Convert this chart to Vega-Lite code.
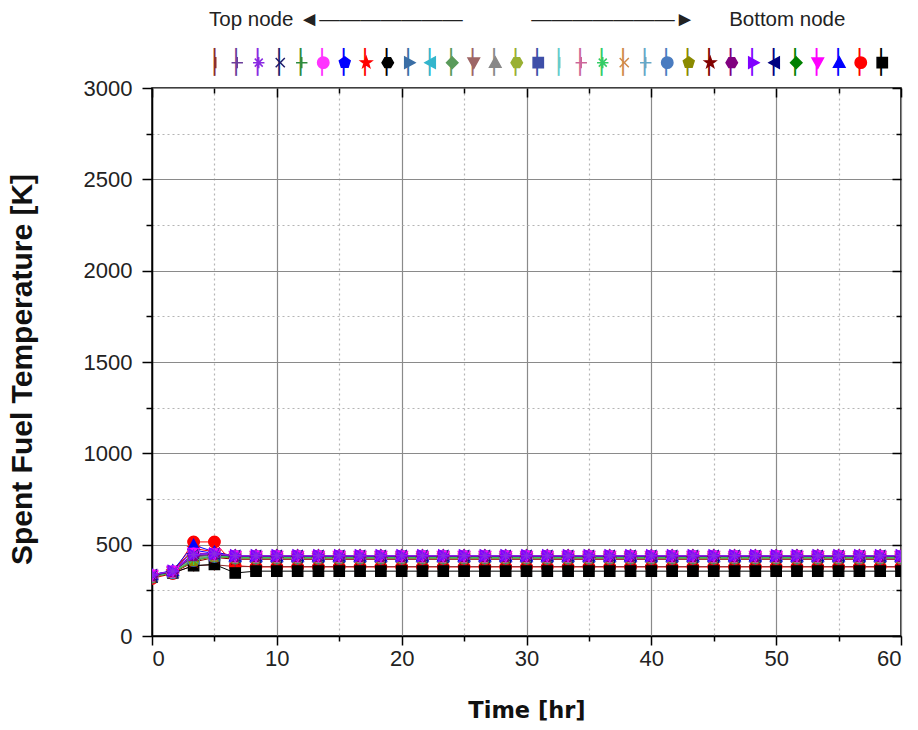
{
"$schema": "https://vega.github.io/schema/vega-lite/v6.json",
"width": 749, "height": 548,
"autosize": "none",
"padding": {"left": 152, "top": 88, "right": 17, "bottom": 94},
"background": "white",
"config": {"view": {"stroke": "#000", "strokeWidth": 1.5}},
"data": {"values": [
{"t":0,"n01":320,"n02":330,"n03":335,"n04":332,"n05":330,"n06":332,"n07":334,"n08":330,"n09":326,"n10":330,"n11":330,"n12":328,"n13":328,"n14":328,"n15":326,"n16":326,"n17":326,"n18":325,"n19":325,"n20":324,"n21":324,"n22":323,"n23":322,"n24":322,"n25":330,"n26":335,"n27":332,"n28":330,"n29":334,"n30":336,"n31":315,"n32":322},
{"t":1.667,"n01":345,"n02":352,"n03":355,"n04":354,"n05":352,"n06":352,"n07":356,"n08":354,"n09":350,"n10":352,"n11":352,"n12":350,"n13":350,"n14":350,"n15":350,"n16":348,"n17":348,"n18":348,"n19":348,"n20":347,"n21":347,"n22":346,"n23":346,"n24":345,"n25":352,"n26":356,"n27":354,"n28":352,"n29":356,"n30":358,"n31":342,"n32":345},
{"t":3.333,"n01":385,"n02":440,"n03":445,"n04":448,"n05":440,"n06":450,"n07":470,"n08":480,"n09":420,"n10":445,"n11":440,"n12":435,"n13":432,"n14":430,"n15":428,"n16":425,"n17":424,"n18":422,"n19":420,"n20":418,"n21":416,"n22":414,"n23":412,"n24":405,"n25":440,"n26":445,"n27":450,"n28":445,"n29":455,"n30":498,"n31":515,"n32":385},
{"t":5,"n01":390,"n02":448,"n03":450,"n04":448,"n05":446,"n06":448,"n07":452,"n08":460,"n09":440,"n10":447,"n11":446,"n12":445,"n13":444,"n14":443,"n15":442,"n16":440,"n17":440,"n18":439,"n19":438,"n20":437,"n21":436,"n22":436,"n23":435,"n24":430,"n25":448,"n26":450,"n27":448,"n28":446,"n29":450,"n30":460,"n31":515,"n32":392},
{"t":6.667,"n01":380,"n02":438,"n03":440,"n04":438,"n05":436,"n06":436,"n07":440,"n08":438,"n09":430,"n10":437,"n11":436,"n12":434,"n13":434,"n14":433,"n15":432,"n16":431,"n17":430,"n18":430,"n19":429,"n20":428,"n21":428,"n22":427,"n23":426,"n24":420,"n25":436,"n26":440,"n27":436,"n28":432,"n29":438,"n30":436,"n31":385,"n32":345},
{"t":8.333,"n01":380,"n02":438,"n03":440,"n04":438,"n05":436,"n06":436,"n07":440,"n08":438,"n09":430,"n10":437,"n11":436,"n12":434,"n13":434,"n14":433,"n15":432,"n16":431,"n17":430,"n18":430,"n19":429,"n20":428,"n21":428,"n22":427,"n23":426,"n24":420,"n25":436,"n26":440,"n27":436,"n28":432,"n29":438,"n30":436,"n31":378,"n32":355},
{"t":10,"n01":380,"n02":438,"n03":440,"n04":438,"n05":436,"n06":436,"n07":440,"n08":438,"n09":430,"n10":437,"n11":436,"n12":434,"n13":434,"n14":433,"n15":432,"n16":431,"n17":430,"n18":430,"n19":429,"n20":428,"n21":428,"n22":427,"n23":426,"n24":420,"n25":436,"n26":440,"n27":436,"n28":432,"n29":438,"n30":436,"n31":378,"n32":355},
{"t":11.667,"n01":380,"n02":438,"n03":440,"n04":438,"n05":436,"n06":436,"n07":440,"n08":438,"n09":430,"n10":437,"n11":436,"n12":434,"n13":434,"n14":433,"n15":432,"n16":431,"n17":430,"n18":430,"n19":429,"n20":428,"n21":428,"n22":427,"n23":426,"n24":420,"n25":436,"n26":440,"n27":436,"n28":432,"n29":438,"n30":436,"n31":378,"n32":355},
{"t":13.333,"n01":380,"n02":438,"n03":440,"n04":438,"n05":436,"n06":436,"n07":440,"n08":438,"n09":430,"n10":437,"n11":436,"n12":434,"n13":434,"n14":433,"n15":432,"n16":431,"n17":430,"n18":430,"n19":429,"n20":428,"n21":428,"n22":427,"n23":426,"n24":420,"n25":436,"n26":440,"n27":436,"n28":432,"n29":438,"n30":436,"n31":378,"n32":355},
{"t":15,"n01":380,"n02":438,"n03":440,"n04":438,"n05":436,"n06":436,"n07":440,"n08":438,"n09":430,"n10":437,"n11":436,"n12":434,"n13":434,"n14":433,"n15":432,"n16":431,"n17":430,"n18":430,"n19":429,"n20":428,"n21":428,"n22":427,"n23":426,"n24":420,"n25":436,"n26":440,"n27":436,"n28":432,"n29":438,"n30":436,"n31":378,"n32":355},
{"t":16.667,"n01":380,"n02":438,"n03":440,"n04":438,"n05":436,"n06":436,"n07":440,"n08":438,"n09":430,"n10":437,"n11":436,"n12":434,"n13":434,"n14":433,"n15":432,"n16":431,"n17":430,"n18":430,"n19":429,"n20":428,"n21":428,"n22":427,"n23":426,"n24":420,"n25":436,"n26":440,"n27":436,"n28":432,"n29":438,"n30":436,"n31":378,"n32":355},
{"t":18.333,"n01":380,"n02":438,"n03":440,"n04":438,"n05":436,"n06":436,"n07":440,"n08":438,"n09":430,"n10":437,"n11":436,"n12":434,"n13":434,"n14":433,"n15":432,"n16":431,"n17":430,"n18":430,"n19":429,"n20":428,"n21":428,"n22":427,"n23":426,"n24":420,"n25":436,"n26":440,"n27":436,"n28":432,"n29":438,"n30":436,"n31":378,"n32":355},
{"t":20,"n01":380,"n02":438,"n03":440,"n04":438,"n05":436,"n06":436,"n07":440,"n08":438,"n09":430,"n10":437,"n11":436,"n12":434,"n13":434,"n14":433,"n15":432,"n16":431,"n17":430,"n18":430,"n19":429,"n20":428,"n21":428,"n22":427,"n23":426,"n24":420,"n25":436,"n26":440,"n27":436,"n28":432,"n29":438,"n30":436,"n31":378,"n32":355},
{"t":21.667,"n01":380,"n02":438,"n03":440,"n04":438,"n05":436,"n06":436,"n07":440,"n08":438,"n09":430,"n10":437,"n11":436,"n12":434,"n13":434,"n14":433,"n15":432,"n16":431,"n17":430,"n18":430,"n19":429,"n20":428,"n21":428,"n22":427,"n23":426,"n24":420,"n25":436,"n26":440,"n27":436,"n28":432,"n29":438,"n30":436,"n31":378,"n32":355},
{"t":23.333,"n01":380,"n02":438,"n03":440,"n04":438,"n05":436,"n06":436,"n07":440,"n08":438,"n09":430,"n10":437,"n11":436,"n12":434,"n13":434,"n14":433,"n15":432,"n16":431,"n17":430,"n18":430,"n19":429,"n20":428,"n21":428,"n22":427,"n23":426,"n24":420,"n25":436,"n26":440,"n27":436,"n28":432,"n29":438,"n30":436,"n31":378,"n32":355},
{"t":25,"n01":380,"n02":438,"n03":440,"n04":438,"n05":436,"n06":436,"n07":440,"n08":438,"n09":430,"n10":437,"n11":436,"n12":434,"n13":434,"n14":433,"n15":432,"n16":431,"n17":430,"n18":430,"n19":429,"n20":428,"n21":428,"n22":427,"n23":426,"n24":420,"n25":436,"n26":440,"n27":436,"n28":432,"n29":438,"n30":436,"n31":378,"n32":355},
{"t":26.667,"n01":380,"n02":438,"n03":440,"n04":438,"n05":436,"n06":436,"n07":440,"n08":438,"n09":430,"n10":437,"n11":436,"n12":434,"n13":434,"n14":433,"n15":432,"n16":431,"n17":430,"n18":430,"n19":429,"n20":428,"n21":428,"n22":427,"n23":426,"n24":420,"n25":436,"n26":440,"n27":436,"n28":432,"n29":438,"n30":436,"n31":378,"n32":355},
{"t":28.333,"n01":380,"n02":438,"n03":440,"n04":438,"n05":436,"n06":436,"n07":440,"n08":438,"n09":430,"n10":437,"n11":436,"n12":434,"n13":434,"n14":433,"n15":432,"n16":431,"n17":430,"n18":430,"n19":429,"n20":428,"n21":428,"n22":427,"n23":426,"n24":420,"n25":436,"n26":440,"n27":436,"n28":432,"n29":438,"n30":436,"n31":378,"n32":355},
{"t":30,"n01":380,"n02":438,"n03":440,"n04":438,"n05":436,"n06":436,"n07":440,"n08":438,"n09":430,"n10":437,"n11":436,"n12":434,"n13":434,"n14":433,"n15":432,"n16":431,"n17":430,"n18":430,"n19":429,"n20":428,"n21":428,"n22":427,"n23":426,"n24":420,"n25":436,"n26":440,"n27":436,"n28":432,"n29":438,"n30":436,"n31":378,"n32":355},
{"t":31.667,"n01":380,"n02":438,"n03":440,"n04":438,"n05":436,"n06":436,"n07":440,"n08":438,"n09":430,"n10":437,"n11":436,"n12":434,"n13":434,"n14":433,"n15":432,"n16":431,"n17":430,"n18":430,"n19":429,"n20":428,"n21":428,"n22":427,"n23":426,"n24":420,"n25":436,"n26":440,"n27":436,"n28":432,"n29":438,"n30":436,"n31":378,"n32":355},
{"t":33.333,"n01":380,"n02":438,"n03":440,"n04":438,"n05":436,"n06":436,"n07":440,"n08":438,"n09":430,"n10":437,"n11":436,"n12":434,"n13":434,"n14":433,"n15":432,"n16":431,"n17":430,"n18":430,"n19":429,"n20":428,"n21":428,"n22":427,"n23":426,"n24":420,"n25":436,"n26":440,"n27":436,"n28":432,"n29":438,"n30":436,"n31":378,"n32":355},
{"t":35,"n01":380,"n02":438,"n03":440,"n04":438,"n05":436,"n06":436,"n07":440,"n08":438,"n09":430,"n10":437,"n11":436,"n12":434,"n13":434,"n14":433,"n15":432,"n16":431,"n17":430,"n18":430,"n19":429,"n20":428,"n21":428,"n22":427,"n23":426,"n24":420,"n25":436,"n26":440,"n27":436,"n28":432,"n29":438,"n30":436,"n31":378,"n32":355},
{"t":36.667,"n01":380,"n02":438,"n03":440,"n04":438,"n05":436,"n06":436,"n07":440,"n08":438,"n09":430,"n10":437,"n11":436,"n12":434,"n13":434,"n14":433,"n15":432,"n16":431,"n17":430,"n18":430,"n19":429,"n20":428,"n21":428,"n22":427,"n23":426,"n24":420,"n25":436,"n26":440,"n27":436,"n28":432,"n29":438,"n30":436,"n31":378,"n32":355},
{"t":38.333,"n01":380,"n02":438,"n03":440,"n04":438,"n05":436,"n06":436,"n07":440,"n08":438,"n09":430,"n10":437,"n11":436,"n12":434,"n13":434,"n14":433,"n15":432,"n16":431,"n17":430,"n18":430,"n19":429,"n20":428,"n21":428,"n22":427,"n23":426,"n24":420,"n25":436,"n26":440,"n27":436,"n28":432,"n29":438,"n30":436,"n31":378,"n32":355},
{"t":40,"n01":380,"n02":438,"n03":440,"n04":438,"n05":436,"n06":436,"n07":440,"n08":438,"n09":430,"n10":437,"n11":436,"n12":434,"n13":434,"n14":433,"n15":432,"n16":431,"n17":430,"n18":430,"n19":429,"n20":428,"n21":428,"n22":427,"n23":426,"n24":420,"n25":436,"n26":440,"n27":436,"n28":432,"n29":438,"n30":436,"n31":378,"n32":355},
{"t":41.667,"n01":380,"n02":438,"n03":440,"n04":438,"n05":436,"n06":436,"n07":440,"n08":438,"n09":430,"n10":437,"n11":436,"n12":434,"n13":434,"n14":433,"n15":432,"n16":431,"n17":430,"n18":430,"n19":429,"n20":428,"n21":428,"n22":427,"n23":426,"n24":420,"n25":436,"n26":440,"n27":436,"n28":432,"n29":438,"n30":436,"n31":378,"n32":355},
{"t":43.333,"n01":380,"n02":438,"n03":440,"n04":438,"n05":436,"n06":436,"n07":440,"n08":438,"n09":430,"n10":437,"n11":436,"n12":434,"n13":434,"n14":433,"n15":432,"n16":431,"n17":430,"n18":430,"n19":429,"n20":428,"n21":428,"n22":427,"n23":426,"n24":420,"n25":436,"n26":440,"n27":436,"n28":432,"n29":438,"n30":436,"n31":378,"n32":355},
{"t":45,"n01":380,"n02":438,"n03":440,"n04":438,"n05":436,"n06":436,"n07":440,"n08":438,"n09":430,"n10":437,"n11":436,"n12":434,"n13":434,"n14":433,"n15":432,"n16":431,"n17":430,"n18":430,"n19":429,"n20":428,"n21":428,"n22":427,"n23":426,"n24":420,"n25":436,"n26":440,"n27":436,"n28":432,"n29":438,"n30":436,"n31":378,"n32":355},
{"t":46.667,"n01":380,"n02":438,"n03":440,"n04":438,"n05":436,"n06":436,"n07":440,"n08":438,"n09":430,"n10":437,"n11":436,"n12":434,"n13":434,"n14":433,"n15":432,"n16":431,"n17":430,"n18":430,"n19":429,"n20":428,"n21":428,"n22":427,"n23":426,"n24":420,"n25":436,"n26":440,"n27":436,"n28":432,"n29":438,"n30":436,"n31":378,"n32":355},
{"t":48.333,"n01":380,"n02":438,"n03":440,"n04":438,"n05":436,"n06":436,"n07":440,"n08":438,"n09":430,"n10":437,"n11":436,"n12":434,"n13":434,"n14":433,"n15":432,"n16":431,"n17":430,"n18":430,"n19":429,"n20":428,"n21":428,"n22":427,"n23":426,"n24":420,"n25":436,"n26":440,"n27":436,"n28":432,"n29":438,"n30":436,"n31":378,"n32":355},
{"t":50,"n01":380,"n02":438,"n03":440,"n04":438,"n05":436,"n06":436,"n07":440,"n08":438,"n09":430,"n10":437,"n11":436,"n12":434,"n13":434,"n14":433,"n15":432,"n16":431,"n17":430,"n18":430,"n19":429,"n20":428,"n21":428,"n22":427,"n23":426,"n24":420,"n25":436,"n26":440,"n27":436,"n28":432,"n29":438,"n30":436,"n31":378,"n32":355},
{"t":51.667,"n01":380,"n02":438,"n03":440,"n04":438,"n05":436,"n06":436,"n07":440,"n08":438,"n09":430,"n10":437,"n11":436,"n12":434,"n13":434,"n14":433,"n15":432,"n16":431,"n17":430,"n18":430,"n19":429,"n20":428,"n21":428,"n22":427,"n23":426,"n24":420,"n25":436,"n26":440,"n27":436,"n28":432,"n29":438,"n30":436,"n31":378,"n32":355},
{"t":53.333,"n01":380,"n02":438,"n03":440,"n04":438,"n05":436,"n06":436,"n07":440,"n08":438,"n09":430,"n10":437,"n11":436,"n12":434,"n13":434,"n14":433,"n15":432,"n16":431,"n17":430,"n18":430,"n19":429,"n20":428,"n21":428,"n22":427,"n23":426,"n24":420,"n25":436,"n26":440,"n27":436,"n28":432,"n29":438,"n30":436,"n31":378,"n32":355},
{"t":55,"n01":380,"n02":438,"n03":440,"n04":438,"n05":436,"n06":436,"n07":440,"n08":438,"n09":430,"n10":437,"n11":436,"n12":434,"n13":434,"n14":433,"n15":432,"n16":431,"n17":430,"n18":430,"n19":429,"n20":428,"n21":428,"n22":427,"n23":426,"n24":420,"n25":436,"n26":440,"n27":436,"n28":432,"n29":438,"n30":436,"n31":378,"n32":355},
{"t":56.667,"n01":380,"n02":438,"n03":440,"n04":438,"n05":436,"n06":436,"n07":440,"n08":438,"n09":430,"n10":437,"n11":436,"n12":434,"n13":434,"n14":433,"n15":432,"n16":431,"n17":430,"n18":430,"n19":429,"n20":428,"n21":428,"n22":427,"n23":426,"n24":420,"n25":436,"n26":440,"n27":436,"n28":432,"n29":438,"n30":436,"n31":378,"n32":355},
{"t":58.333,"n01":380,"n02":438,"n03":440,"n04":438,"n05":436,"n06":436,"n07":440,"n08":438,"n09":430,"n10":437,"n11":436,"n12":434,"n13":434,"n14":433,"n15":432,"n16":431,"n17":430,"n18":430,"n19":429,"n20":428,"n21":428,"n22":427,"n23":426,"n24":420,"n25":436,"n26":440,"n27":436,"n28":432,"n29":438,"n30":436,"n31":378,"n32":355},
{"t":60,"n01":380,"n02":438,"n03":440,"n04":438,"n05":436,"n06":436,"n07":440,"n08":438,"n09":430,"n10":437,"n11":436,"n12":434,"n13":434,"n14":433,"n15":432,"n16":431,"n17":430,"n18":430,"n19":429,"n20":428,"n21":428,"n22":427,"n23":426,"n24":420,"n25":436,"n26":440,"n27":436,"n28":432,"n29":438,"n30":436,"n31":378,"n32":355}
]},
"transform": [{"fold": ["n31","n01","n32","n24","n09","n16","n15","n14","n13","n12","n11","n10","n17","n18","n20","n21","n22","n23","n28","n05","n07","n08","n30","n06","n27","n02","n19","n25","n29","n04","n26","n03"], "as": ["node","temp"]}],
"encoding": {
  "x": {"field": "t", "type": "quantitative", "scale": {"domain": [0, 60], "nice": false},
    "axis": {"values": [0,5,10,15,20,25,30,35,40,45,50,55,60], "labelExpr": "datum.value % 10 === 0 ? datum.label : ''",
      "title": "Time [hr]", "titleFont": "DejaVu Sans", "titleFontSize": 22.5, "titleFontWeight": "bold", "titleColor": "#111", "titlePadding": 30,
      "labelFont": "Liberation Sans", "labelFontSize": 22, "labelColor": "#222", "labelPadding": 3,
      "tickSize": {"condition": {"test": "datum.value % 10 === 0", "value": 9}, "value": 5},
      "tickColor": "#000", "tickWidth": 1.5, "domainColor": "#000", "domainWidth": 1.5,
      "grid": true, "gridWidth": 1.2,
      "gridColor": {"condition": {"test": "datum.value % 10 === 0", "value": "#8a8a8a"}, "value": "#b5b5b5"},
      "gridDash": {"condition": {"test": "datum.value % 10 === 0", "value": []}, "value": [2, 3]}}},
  "y": {"field": "temp", "type": "quantitative", "scale": {"domain": [0, 3000], "nice": false},
    "axis": {"values": [0,250,500,750,1000,1250,1500,1750,2000,2250,2500,2750,3000], "labelExpr": "datum.value % 500 === 0 ? datum.label : ''", "format": "d",
      "title": "Spent Fuel Temperature [K]", "titleFont": "Liberation Sans", "titleFontSize": 30, "titleFontWeight": "bold", "titleColor": "#111", "titlePadding": 46, "titleY": 281,
      "labelFont": "Liberation Sans", "labelFontSize": 22, "labelColor": "#222", "labelPadding": 10,
      "tickSize": {"condition": {"test": "datum.value % 500 === 0", "value": 10}, "value": 6},
      "tickColor": "#000", "tickWidth": 1.5, "domainColor": "#000", "domainWidth": 1.5,
      "grid": true, "gridWidth": 1.2,
      "gridColor": {"condition": {"test": "datum.value % 500 === 0", "value": "#8a8a8a"}, "value": "#b5b5b5"},
      "gridDash": {"condition": {"test": "datum.value % 500 === 0", "value": []}, "value": [2, 3]}}},
  "color": {"field": "node", "type": "nominal",
    "scale": {"domain": ["n01","n02","n03","n04","n05","n06","n07","n08","n09","n10","n11","n12","n13","n14","n15","n16","n17","n18","n19","n20","n21","n22","n23","n24","n25","n26","n27","n28","n29","n30","n31","n32"],
      "range": ["#8B2E2E","#6A3D9A","#8A2BE2","#1C1C6B","#2E8B3E","#FF33FF","#0000FF","#FF0000","#000000","#3A6EA5","#33B5CC","#5A9A5A","#9E6666","#888888","#99B033","#3E4FA8","#66CCCC","#CC6699","#33CC66","#D08A4A","#66A8C8","#4A7CC0","#8A8A00","#800000","#800080","#8000FF","#000080","#008000","#FF00FF","#0000FF","#FF0000","#000000"]},
    "legend": {"orient": "none", "legendX": 52, "legendY": -78, "direction": "horizontal", "columns": 32, "padding": 0, "symbolLimit": 40,
      "labelExpr": "'│'", "labelFont": "DejaVu Sans", "labelFontSize": 23.5, "labelAlign": "center", "labelBaseline": "middle", "labelOffset": -13,
      "columnPadding": 0.5, "gridAlign": "all",
      "symbolSize": 130, "symbolStrokeWidth": 1.5,
      "title": "Top node ◄———————\u00a0\u00a0\u00a0\u00a0\u00a0\u00a0\u00a0\u00a0\u00a0\u00a0\u00a0\u00a0———————►\u00a0\u00a0\u00a0\u00a0\u00a0\u00a0Bottom node",
      "titleFont": "Liberation Sans", "titleFontSize": 20.5, "titleFontWeight": "normal", "titleColor": "#222", "titlePadding": 20, "titleLimit": 1000,
      "encode": {
        "title": {"update": {"dx": {"value": 5}}},
        "labels": {"update": {"fill": {"signal": "scale('color', datum.value)"}}},
        "symbols": {"update": {
        "shape": {"signal": "scale('shape', datum.value)"},
        "stroke": {"signal": "scale('color', datum.value)"},
        "fill": {"signal": "scale('color', datum.value)"},
        "strokeWidth": {"value": 1.5}, "opacity": {"value": 1}, "fillOpacity": {"value": 1}}}}}}
},
"layer": [
  {"mark": {"type": "line", "strokeWidth": 1, "clip": true}},
  {"mark": {"type": "point", "filled": true, "size": 135, "strokeWidth": 1.2, "opacity": 1, "clip": true},
   "encoding": {
     "x": {"field": "t", "type": "quantitative",
       "axis": {"orient": "top", "values": [0,5,10,15,20,25,30,35,40,45,50,55,60], "labels": false, "title": null, "grid": false, "domain": false,
         "tickSize": {"condition": {"test": "datum.value % 10 === 0", "value": -9}, "value": -5}, "tickColor": "#000", "tickWidth": 1.5}},
     "y": {"field": "temp", "type": "quantitative",
       "axis": {"orient": "right", "values": [0,250,500,750,1000,1250,1500,1750,2000,2250,2500,2750,3000], "labels": false, "title": null, "grid": false, "domain": false,
         "tickSize": {"condition": {"test": "datum.value % 500 === 0", "value": -9}, "value": -5}, "tickColor": "#000", "tickWidth": 1.5}},
     "shape": {"field": "node", "type": "nominal", "legend": null,
       "scale": {"domain": ["n01","n02","n03","n04","n05","n06","n07","n08","n09","n10","n11","n12","n13","n14","n15","n16","n17","n18","n19","n20","n21","n22","n23","n24","n25","n26","n27","n28","n29","n30","n31","n32"],
         "range": ["M0,-1V1","M-1,0H1M0,-1V1","M-1,0H1M0,-1V1M-0.7,-0.7L0.7,0.7M-0.7,0.7L0.7,-0.7","M-0.8,-0.8L0.8,0.8M-0.8,0.8L0.8,-0.8","M-1,0H1M0,-1V1","M1,0A1,1,0,1,1,-1,0A1,1,0,1,1,1,0Z","M0,-1L0.951,-0.309L0.588,0.809L-0.588,0.809L-0.951,-0.309Z","M0,-1L0.235,-0.324L0.951,-0.309L0.38,0.124L0.588,0.809L0,0.4L-0.588,0.809L-0.38,0.124L-0.951,-0.309L-0.235,-0.324Z","M-0.5,-0.866L0.5,-0.866L1,0L0.5,0.866L-0.5,0.866L-1,0Z","M1,0L-0.8,-1L-0.8,1Z","M-1,0L0.8,-1L0.8,1Z","M0,-1L1,0L0,1L-1,0Z","M0,1L1,-0.8L-1,-0.8Z","M0,-1L1,0.8L-1,0.8Z","M-0.5,-0.866L0.5,-0.866L1,0L0.5,0.866L-0.5,0.866L-1,0Z","M-0.9,-0.9H0.9V0.9H-0.9Z","M0,-1V1","M-1,0H1M0,-1V1","M-1,0H1M0,-1V1M-0.7,-0.7L0.7,0.7M-0.7,0.7L0.7,-0.7","M-0.8,-0.8L0.8,0.8M-0.8,0.8L0.8,-0.8","M-1,0H1M0,-1V1","M1,0A1,1,0,1,1,-1,0A1,1,0,1,1,1,0Z","M0,-1L0.951,-0.309L0.588,0.809L-0.588,0.809L-0.951,-0.309Z","M0,-1L0.235,-0.324L0.951,-0.309L0.38,0.124L0.588,0.809L0,0.4L-0.588,0.809L-0.38,0.124L-0.951,-0.309L-0.235,-0.324Z","M-0.5,-0.866L0.5,-0.866L1,0L0.5,0.866L-0.5,0.866L-1,0Z","M1,0L-0.8,-1L-0.8,1Z","M-1,0L0.8,-1L0.8,1Z","M0,-1L1,0L0,1L-1,0Z","M0,1L1,-0.8L-1,-0.8Z","M0,-1L1,0.8L-1,0.8Z","M1,0A1,1,0,1,1,-1,0A1,1,0,1,1,1,0Z","M-0.9,-0.9H0.9V0.9H-0.9Z"]}},
     "stroke": {"field": "node", "type": "nominal", "legend": null,
       "scale": {"domain": ["n01","n02","n03","n04","n05","n06","n07","n08","n09","n10","n11","n12","n13","n14","n15","n16","n17","n18","n19","n20","n21","n22","n23","n24","n25","n26","n27","n28","n29","n30","n31","n32"],
         "range": ["#8B2E2E","#6A3D9A","#8A2BE2","#1C1C6B","#2E8B3E","#FF33FF","#0000FF","#FF0000","#000000","#3A6EA5","#33B5CC","#5A9A5A","#9E6666","#888888","#99B033","#3E4FA8","#66CCCC","#CC6699","#33CC66","#D08A4A","#66A8C8","#4A7CC0","#8A8A00","#800000","#800080","#8000FF","#000080","#008000","#FF00FF","#0000FF","#FF0000","#000000"]}}
   }}
],
"resolve": {"axis": {"x": "independent", "y": "independent"}}
}
